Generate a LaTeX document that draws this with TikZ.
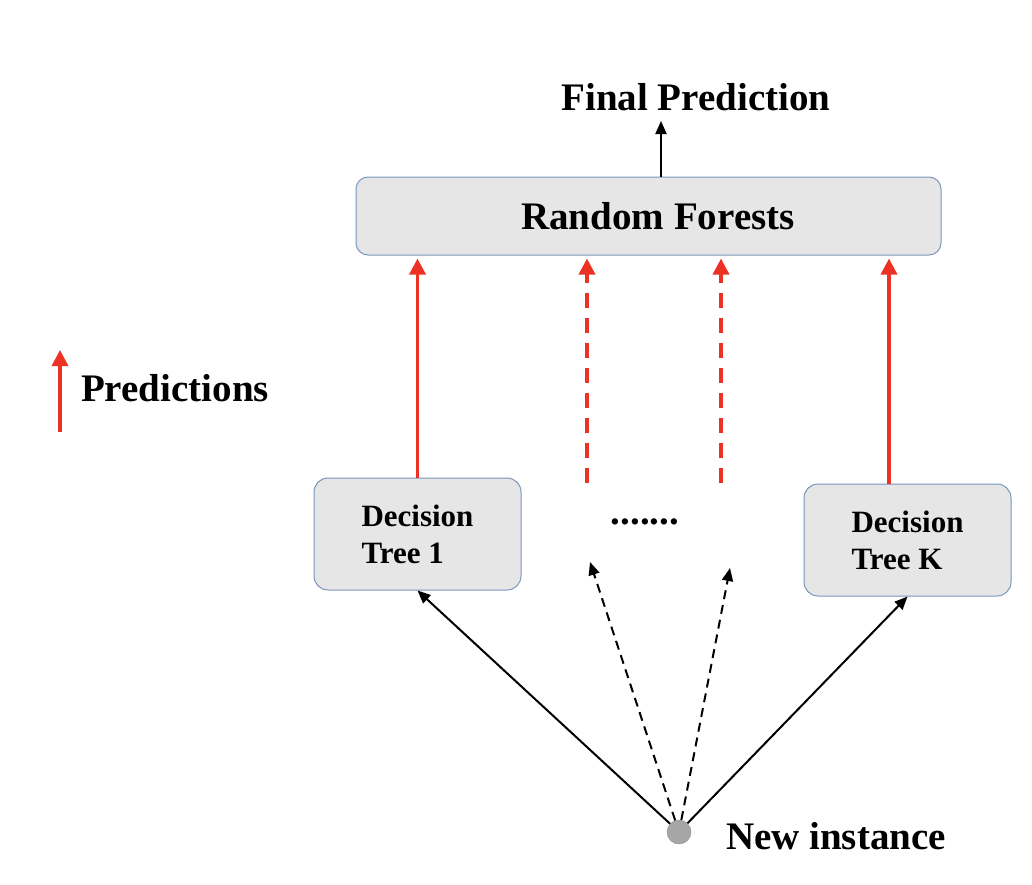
\documentclass[tikz,border=0pt]{standalone}
\usepackage{fontspec}
\setmainfont{Liberation Serif}
\usetikzlibrary{calc}
\usetikzlibrary{arrows.meta}
\definecolor{predred}{RGB}{236,50,36}
\definecolor{boxgray}{RGB}{231,230,230}
\definecolor{boxline}{RGB}{120,150,190}
\definecolor{dotgray}{RGB}{166,166,166}

\begin{document}
\begin{tikzpicture}[x=1pt, y=-1pt,
  bigtxt/.style={font=\fontsize{39}{44}\selectfont\bfseries, inner sep=0},
  smalltxt/.style={font=\fontsize{31}{37}\selectfont\bfseries},
  rfbox/.style={draw=boxline, line width=1pt, fill=boxgray, rounded corners=12pt,
                minimum width=585pt, minimum height=78pt},
  treebox/.style={draw=boxline, line width=1pt, fill=boxgray, rounded corners=14pt,
                  minimum width=207pt, minimum height=112pt, align=left, smalltxt},
  predarrow/.style={predred, line width=3.5pt, -{Triangle[width=16pt,length=16pt]}, shorten >=3pt},
  reddash/.style={dash pattern=on 15pt off 10pt},
  blkarrow/.style={black, line width=2pt, -{Triangle[width=11pt,length=13pt]}},
  blkdash/.style={dash pattern=on 9pt off 6pt}]
\useasboundingbox (0,0) rectangle (1032,884);
% top of the ensemble
\node[rfbox] (rf) at (648.5,216) {};
\node[bigtxt] (rftxt) at (658,216) {Random Forests};
\node[bigtxt] (final) at (696,97) {Final Prediction};
\coordinate (top) at (661,121);
\draw[blkarrow] (rf.north -| top) -- (top);
% the trees
\node[treebox] (t1) at (417.5,534) {Decision\\Tree 1};
\node[treebox] (tK) at (907.5,540) {Decision\\Tree K};
\node[bigtxt] (dots) at (645,522) {.......};
\coordinate (p1) at (587,483);
\coordinate (p2) at (721,483);
% predictions going up
\draw[predarrow] (t1.north) -- (t1.north |- rf.south);
\foreach \c in {p1,p2}
  \draw[predarrow,reddash] (\c) -- (\c |- rf.south);
\draw[predarrow] ([xshift=-18.5pt]tK.north) -- ([xshift=-18.5pt]tK.north |- rf.south);
% legend
\coordinate (lg) at (60,432);
\draw[predarrow, shorten >=0pt] (lg) -- ++(0,-82);
\node[bigtxt] (predtxt) at (175,388) {Predictions};
% new instance
\node[circle, draw=dotgray!85!black, fill=dotgray, minimum size=24pt, inner sep=0] (inst) at (679,832) {};
\node[bigtxt] (newi) at (836,836) {New instance};
\coordinate (d1) at (590,562);
\coordinate (d2) at (730,568);
\draw[blkarrow] (inst) -- (t1.south);
\draw[blkarrow] (inst) -- (tK.south);
\foreach \c in {d1,d2}
  \draw[blkarrow,blkdash] (inst) -- (\c);
\end{tikzpicture}
\end{document}
